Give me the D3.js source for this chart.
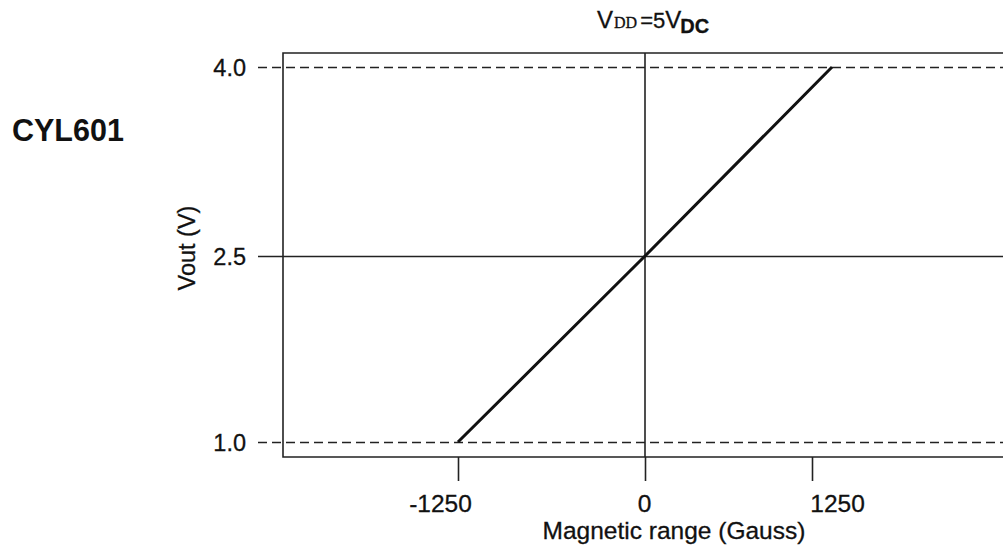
<!DOCTYPE html>
<html>
<head>
<meta charset="utf-8">
<script src="https://d3js.org/d3.v7.min.js"></script>
<style>
  body { margin: 0; background: #fff; }
  text { font-family: "Liberation Sans", Arial, sans-serif; fill: #111; }
  .lbl { stroke: #111; stroke-width: 0.3px; }
</style>
</head>
<body>
<div id="chart"></div>
<script>
// data
var magnetic = [-1250, 0, 1400];
var vout = [1.0, 2.5, 4.0];
var xTicks = [-1250, 0, 1250];
var yTicks = [1.0, 2.5, 4.0];
var dashedLevels = [1.0, 4.0];

var width = 1003;
var height = 548;

var svg = d3.select('#chart').append('svg')
    .attr('width', width)
    .attr('height', height);

var plotLeft = 283, plotTop = 53, plotBottom = 457, plotRight = 1003;

var x = d3.scaleLinear()
    .domain([-1250, 0, 1250])
    .range([458, 645, 812]);

var y = d3.scaleLinear()
    .domain([1.0, 2.5, 4.0])
    .range([442, 256, 67]);

// frame (right side is cut off)
svg.append('path')
    .attr('d', `M${plotRight},${plotTop}H${plotLeft}V${plotBottom}H${plotRight}`)
    .attr('fill', 'none')
    .attr('stroke', '#222')
    .attr('stroke-width', 1.6);

// y axis: ticks run across as reference lines
var yAxis = svg.append('g')
    .attr('transform', `translate(${plotLeft},0)`)
    .call(d3.axisLeft(y)
        .tickValues(yTicks)
        .tickFormat(d3.format('.1f'))
        .tickSize(-(plotRight - plotLeft))
        .tickPadding(37));

yAxis.select('.domain').remove();
yAxis.selectAll('.tick line')
    .attr('x1', -25)
    .attr('stroke', '#222')
    .attr('stroke-width', 1.6)
    .attr('stroke-dasharray', d => dashedLevels.includes(d) ? '9,5' : null);
yAxis.selectAll('.tick text')
    .attr('class', 'lbl')
    .style('font-size', '23.5px')
    .attr('dy', '0.36em');

// x axis
var xAxis = svg.append('g')
    .attr('transform', `translate(0,${plotBottom})`)
    .call(d3.axisBottom(x)
        .tickValues(xTicks)
        .tickFormat(d => String(d))
        .tickSize(24)
        .tickPadding(14));

xAxis.select('.domain').remove();
xAxis.selectAll('.tick line')
    .attr('stroke', '#222')
    .attr('stroke-width', 1.6);
// labels in the original sit a little off their ticks
var labelShift = [-18, -1, 25];
xAxis.selectAll('.tick text')
    .attr('class', 'lbl')
    .attr('dx', (d, i) => labelShift[i])
    .style('font-size', '24.5px');

// vertical zero line
svg.append('line')
    .attr('x1', x(0)).attr('x2', x(0))
    .attr('y1', plotTop).attr('y2', plotBottom)
    .attr('stroke', '#222')
    .attr('stroke-width', 1.6);

// output curve
var pts = magnetic.map((m, i) => [m, vout[i]]);
svg.append('path')
    .datum(pts)
    .attr('d', d3.line().x(d => x(d[0])).y(d => y(d[1])))
    .attr('fill', 'none')
    .attr('stroke', '#111')
    .attr('stroke-width', 3);

// labels
svg.append('text')
    .attr('class', 'lbl')
    .attr('x', 674)
    .attr('y', 539)
    .attr('text-anchor', 'middle')
    .style('font-size', '24.5px')
    .text('Magnetic range (Gauss)');

svg.append('text')
    .attr('class', 'lbl')
    .attr('transform', 'translate(195,248)rotate(-90)')
    .attr('text-anchor', 'middle')
    .style('font-size', '23.5px')
    .text('Vout (V)');

svg.append('text')
    .attr('x', 12)
    .attr('y', 141)
    .style('font-size', '30.5px')
    .style('font-weight', 'bold')
    .text('CYL601');

var title = svg.append('text')
    .attr('class', 'lbl')
    .attr('x', 597)
    .attr('y', 28)
    .style('font-size', '22px');
title.append('tspan').style('font-size', '24px').text('V');
title.append('tspan')
    .attr('dx', 1)
    .style('font-family', '"Liberation Serif", serif')
    .style('font-size', '16px')
    .text('DD');
title.append('tspan').attr('dx', 3).text('=5');
title.append('tspan').style('font-size', '24px').text('V');
title.append('tspan')
    .attr('dy', 5)
    .attr('dx', -1)
    .style('font-size', '20px')
    .style('font-weight', 'bold')
    .text('DC');
</script>
</body>
</html>
